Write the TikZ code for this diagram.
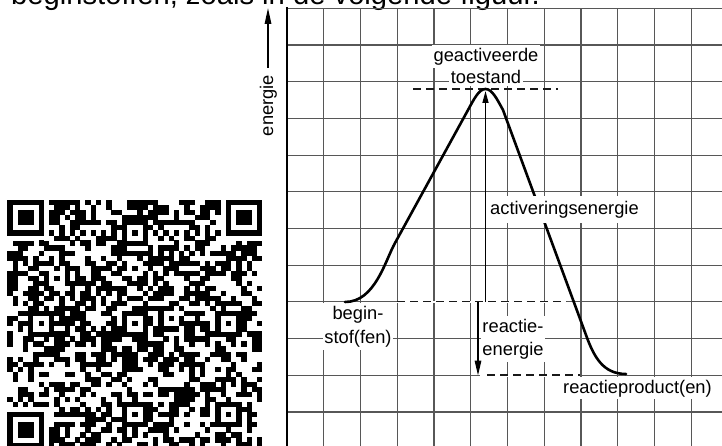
\documentclass[tikz,border=0pt]{standalone}
\usepackage{fontspec}
\setmainfont{Liberation Sans}
\usetikzlibrary{arrows.meta}
\newcommand{\qrbox}[5]{\fill[#5] ({\qx+(#2)*\qw},{\qy+(#1)*\qh}) rectangle ({\qx+(#2+#4)*\qw+0.2},{\qy+(#1+#3)*\qh+0.2});}
\tikzset{
  gridline/.style={draw=black!66, line width=1.15pt},
  axisline/.style={draw=black, line width=2.6pt},
  curveline/.style={draw=black, line width=2.6pt, line cap=round, line join=round},
  dashline/.style={draw=black!90, line width=1.45pt, dash pattern=on 8pt off 5pt},
  eraser/.style={draw=white, line width=2.8pt},
  arr/.style={draw=black, line width=1.45pt},
  lbl/.style={font=\fontsize{18.3}{22}\selectfont, inner xsep=1.5pt, inner ysep=3pt, fill=white},
}
\begin{document}
\begin{tikzpicture}[x=1pt,y=-1pt]
\useasboundingbox (0,0) rectangle (722,446);
\fill[white] (0,0) rectangle (722,446);

% partly visible line of text at the top
\node[anchor=base west, inner sep=0, font=\fontsize{29.2}{34}\selectfont] (toptext) at (11,4.5) {beginstoffen, zoals in de volgende figuur.};

% QR code
\def\qx{7.3}\def\qy{200}\def\qw{5.2}\def\qh{5.05}
\pgfmathsetseed{20231}
\foreach \qi in {0,...,48}{
  \foreach \qj in {0,...,48}{
    \pgfmathrandominteger{\qb}{0}{1}
    \ifnum\qb=1 \qrbox{\qi}{\qj}{1}{1}{black}\fi
  }
}
% finder patterns
\qrbox{0}{0}{8}{8}{white}\qrbox{0}{0}{7}{7}{black}\qrbox{1}{1}{5}{5}{white}\qrbox{2}{2}{3}{3}{black}
\qrbox{0}{41}{8}{8}{white}\qrbox{0}{42}{7}{7}{black}\qrbox{1}{43}{5}{5}{white}\qrbox{2}{44}{3}{3}{black}
\qrbox{41}{0}{8}{8}{white}\qrbox{42}{0}{7}{7}{black}\qrbox{43}{1}{5}{5}{white}\qrbox{44}{2}{3}{3}{black}
% timing patterns
\qrbox{6}{8}{1}{33}{white}\qrbox{8}{6}{33}{1}{white}
\foreach \qk in {8,10,...,40}{\qrbox{6}{\qk}{1}{1}{black}\qrbox{\qk}{6}{1}{1}{black}}
% alignment patterns
\foreach \ar/\ac in {6/24,24/6,24/24,24/42,42/24,42/42}{
  \qrbox{\ar-2}{\ac-2}{5}{5}{black}\qrbox{\ar-1}{\ac-1}{3}{3}{white}\qrbox{\ar}{\ac}{1}{1}{black}
}

% grid
\foreach \k in {1,...,11}{\draw[gridline] ({287+\k*36.75},8.3) -- ({287+\k*36.75},446);}
\foreach \k in {0,...,11}{\draw[gridline] (287,{8.3+\k*36.7}) -- (722,{8.3+\k*36.7});}
\draw[axisline] (287,7) -- (287,446);

% labels over the grid
\node[lbl, anchor=base] (geact) at (486,61.7) {geactiveerde};
\node[lbl, anchor=base] (toest) at (486,83.3) {toestand};
\node[lbl, anchor=north, align=center, font=\fontsize{18.3}{24.3}\selectfont] (begin) at (358,302.9) {begin-\\stof(fen)};
\node[lbl, anchor=north, align=center, font=\fontsize{18.3}{23}\selectfont] (reactie) at (513,315.9) {reactie-\\energie};
\node[lbl, anchor=base west, inner ysep=2.5pt] (prod) at (561.5,393) {reactieproduct(en)};

% dashed level lines
\draw[eraser] (397,301.9) -- (566,301.9);
\draw[eraser] (480,375.3) -- (580,375.3);
\draw[dashline] (413,89) -- (558,89);
\draw[dashline] (397,301.7) -- (566,301.7);
\draw[dashline] (487,375.2) -- (580,375.2);

% energy curve
\draw[curveline] (345,302) .. controls (375,302) and (385,261) .. (395,243) -- (468,110)
  .. controls (474,99) and (479,89) .. (485.5,89) .. controls (492,89) and (497,99) .. (503,110)
  -- (586,335) .. controls (594,357) and (603,374) .. (626,374);

\node[lbl, anchor=base west, inner ysep=5pt] (act) at (488.5,214.5) {activeringsenergie};

% arrows
\coordinate (peakpt) at (485.5,91);
\coordinate (beginpt) at (485.5,302);
\draw[arr, -{Triangle[length=12pt,width=6pt]}] (beginpt) -- (peakpt);
\coordinate (rtop) at (478,302);
\coordinate (rbot) at (478,375.5);
\draw[arr, -{Triangle[length=15pt,width=6.5pt]}] (rtop) -- (rbot);
\coordinate (ebot) at (268,68);
\coordinate (etop) at (268,8);
\draw[arr, -{Triangle[length=16pt,width=6.5pt]}] (ebot) -- (etop);
\node[rotate=90, anchor=base, inner sep=0, font=\fontsize{18.3}{22}\selectfont] (elbl) at (273,105.5) {energie};
\end{tikzpicture}
\end{document}
